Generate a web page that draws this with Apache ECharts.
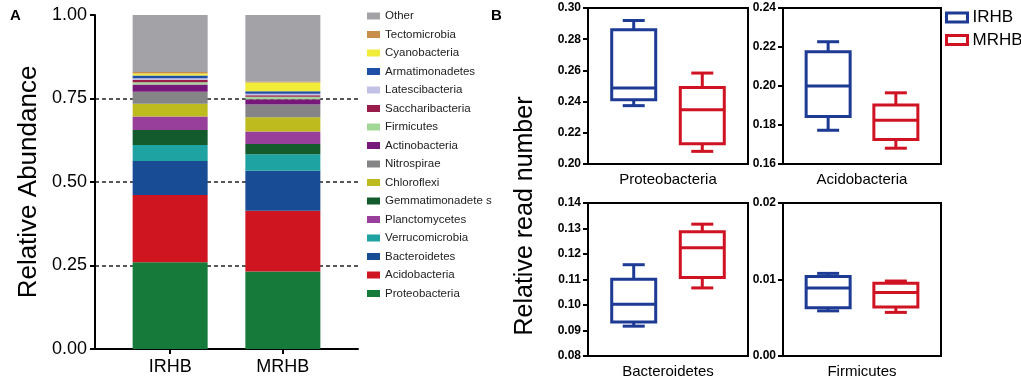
<!DOCTYPE html>
<html>
<head>
<meta charset="utf-8">
<script src="https://cdn.jsdelivr.net/npm/echarts@6/dist/echarts.min.js"></script>
<style>
  html, body { margin: 0; padding: 0; background: #fff; }
  #chart { width: 1021px; height: 380px; }
</style>
</head>
<body>
<div id="chart"></div>
<script>
// ---- panel A data (stacked from the bottom up) ----
const slots = ['', '', 'IRHB', '', '', 'MRHB', '', ''];
const groupSlot = [2, 5];
const phyla = ['Proteobacteria', 'Acidobacteria', 'Bacteroidetes', 'Verrucomicrobia',
  'Gemmatimonadete s', 'Planctomycetes', 'Chloroflexi', 'Nitrospirae', 'Actinobacteria',
  'Firmicutes', 'Saccharibacteria', 'Latescibacteria', 'Armatimonadetes', 'Cyanobacteria',
  'Tectomicrobia', 'Other'];
const irhbAbund = [0.260, 0.201, 0.102, 0.048, 0.045, 0.040, 0.038, 0.036, 0.022,
  0.007, 0.007, 0.005, 0.008, 0.006, 0.004, 0.171];
const mrhbAbund = [0.232, 0.182, 0.120, 0.049, 0.031, 0.037, 0.043, 0.038, 0.016,
  0.007, 0.005, 0.004, 0.008, 0.026, 0.003, 0.199];
const legendOrder = ['Other', 'Tectomicrobia', 'Cyanobacteria', 'Armatimonadetes',
  'Latescibacteria', 'Saccharibacteria', 'Firmicutes', 'Actinobacteria', 'Nitrospirae',
  'Chloroflexi', 'Gemmatimonadete s', 'Planctomycetes', 'Verrucomicrobia', 'Bacteroidetes',
  'Acidobacteria', 'Proteobacteria'];
const abundTicks = [0, 0.25, 0.5, 0.75, 1];

const phylumColors = ['#167a3a', '#cf1520', '#184d95', '#1fa3a2', '#135a2d', '#973f9b',
  '#bdbb1d', '#858587', '#77197a', '#a2d896', '#9a1c4b', '#c3c1e5', '#1f4ea6', '#f0ec38',
  '#c78f4b', '#a2a2a7'];

// ---- panel B data: [min, Q1, median, Q3, max] ----
const boxNames = ['Proteobacteria', 'Acidobacteria', 'Bacteroidetes', 'Firmicutes'];
const proteoIRHB = [0.2374, 0.2412, 0.2487, 0.2860, 0.2920];
const proteoMRHB = [0.2081, 0.2130, 0.2348, 0.2490, 0.2583];
const acidoIRHB = [0.1773, 0.1844, 0.2000, 0.2176, 0.2227];
const acidoMRHB = [0.1681, 0.1726, 0.1824, 0.1903, 0.1965];
const bacteroIRHB = [0.0917, 0.0933, 0.1003, 0.1101, 0.1158];
const bacteroMRHB = [0.1067, 0.1108, 0.1225, 0.1287, 0.1317];
const firmiIRHB = [0.0059, 0.0063, 0.0089, 0.0104, 0.0108];
const firmiMRHB = [0.0057, 0.0064, 0.0083, 0.0095, 0.0098];
const irhbBoxes = [proteoIRHB, acidoIRHB, bacteroIRHB, firmiIRHB];
const mrhbBoxes = [proteoMRHB, acidoMRHB, bacteroMRHB, firmiMRHB];
// y axis [min, max, interval] of each small plot
const boxRanges = [[0.20, 0.30, 0.02], [0.16, 0.24, 0.02], [0.08, 0.14, 0.01], [0.00, 0.02, 0.01]];

const blue = '#1d3a94';
const red = '#cf1322';
const font = 'Liberation Sans, Arial, sans-serif';

const boxGrids = [
  { left: 588, top: 8, width: 160, height: 156 },
  { left: 783, top: 8, width: 158, height: 156 },
  { left: 588, top: 203, width: 160, height: 157 },
  { left: 783, top: 203, width: 158, height: 157 }
];

function renderBox(params, api) {
  const x = api.value(0);
  const p = [1, 2, 3, 4, 5].map(i => api.coord([x, api.value(i)]));
  const cx = p[0][0];
  const half = 22;
  const cap = 11;
  const color = api.visual('color');
  const style = { stroke: color, lineWidth: 3, fill: null };
  const hline = (y, w) => ({ type: 'line', shape: { x1: cx - w, y1: y, x2: cx + w, y2: y }, style: style });
  return {
    type: 'group',
    children: [
      { type: 'line', shape: { x1: cx, y1: p[4][1], x2: cx, y2: p[0][1] }, style: style },
      hline(p[4][1], cap),
      hline(p[0][1], cap),
      {
        type: 'rect',
        shape: { x: cx - half, y: p[3][1], width: half * 2, height: p[1][1] - p[3][1] },
        style: { stroke: color, lineWidth: 3, fill: '#fff' }
      },
      hline(p[2][1], half)
    ]
  };
}

const chart = echarts.init(document.getElementById('chart'));

const grids = [{ left: 95, right: 663, top: 15, bottom: 31 }];
const xAxes = [{
  type: 'category',
  gridIndex: 0,
  data: slots,
  boundaryGap: false,
  axisLine: { lineStyle: { color: '#000', width: 2 } },
  axisTick: { interval: (i) => groupSlot.indexOf(i) >= 0, length: 5, lineStyle: { width: 2, color: '#000' } },
  axisLabel: { interval: 0, fontSize: 18, color: '#000', margin: 9 },
  splitLine: { show: false }
}];
const yAxes = [{
  type: 'value',
  gridIndex: 0,
  min: abundTicks[0],
  max: abundTicks[abundTicks.length - 1],
  interval: 0.25,
  name: 'Relative Abundance',
  nameLocation: 'middle',
  nameGap: 53,
  nameTextStyle: { fontSize: 26, color: '#000' },
  axisLine: { show: true, lineStyle: { color: '#000', width: 2 } },
  axisTick: { show: true, length: 5, lineStyle: { width: 2, color: '#000' } },
  axisLabel: { fontSize: 18, color: '#000', margin: 8, formatter: v => v.toFixed(2) },
  splitLine: {
    show: true,
    lineStyle: { type: [4, 3], width: 1.5, color: ['transparent', '#222', '#222', '#222', 'transparent'] }
  }
}];

const series = phyla.map((name, k) => ({
  name: name,
  type: 'bar',
  stack: 'total',
  xAxisIndex: 0,
  yAxisIndex: 0,
  barWidth: 75,
  itemStyle: { color: phylumColors[k] },
  data: [[groupSlot[0], irhbAbund[k]], [groupSlot[1], mrhbAbund[k]]]
}));

boxGrids.forEach((g, i) => {
  const gi = i + 1;
  grids.push(Object.assign({ show: true, borderColor: '#000', borderWidth: 2 }, g));
  xAxes.push({
    type: 'value',
    gridIndex: gi,
    min: 0,
    max: 7,
    name: boxNames[i],
    nameLocation: 'middle',
    nameGap: 8,
    nameTextStyle: { fontSize: 15, color: '#000', verticalAlign: 'top' },
    axisLine: { show: true, lineStyle: { color: '#000', width: 2 } },
    axisTick: { show: false },
    axisLabel: { show: false },
    splitLine: { show: false }
  });
  yAxes.push({
    type: 'value',
    gridIndex: gi,
    min: boxRanges[i][0],
    max: boxRanges[i][1],
    interval: boxRanges[i][2],
    axisLine: { show: true, lineStyle: { color: '#000', width: 2 } },
    axisTick: { show: true, length: 5, lineStyle: { width: 2, color: '#000' } },
    axisLabel: { fontSize: 12, fontWeight: 'bold', color: '#000', margin: 7, formatter: v => v.toFixed(2) },
    splitLine: { show: false }
  });
  [['IRHB', irhbBoxes[i], groupSlot[0], blue], ['MRHB', mrhbBoxes[i], groupSlot[1], red]].forEach(s => {
    series.push({
      name: s[0],
      type: 'custom',
      xAxisIndex: gi,
      yAxisIndex: gi,
      itemStyle: { color: s[3] },
      renderItem: renderBox,
      encode: { x: 0, y: [1, 2, 3, 4, 5] },
      data: [[s[2]].concat(s[1])]
    });
  });
});

const option = {
  animation: false,
  textStyle: { fontFamily: font },
  title: [
    { text: 'A', left: 10, top: 8, padding: 0, textStyle: { fontSize: 15, fontWeight: 'bold', color: '#000' } },
    { text: 'B', left: 491, top: 8, padding: 0, textStyle: { fontSize: 15, fontWeight: 'bold', color: '#000' } }
  ],
  legend: [
    {
      orient: 'vertical',
      left: 367,
      top: 10,
      padding: 0,
      itemWidth: 13,
      itemHeight: 7,
      itemGap: 6.5,
      icon: 'rect',
      selectedMode: false,
      textStyle: { fontSize: 11.5, color: '#222' },
      data: legendOrder
    },
    {
      orient: 'vertical',
      left: 945,
      top: 9,
      padding: 0,
      itemWidth: 21,
      itemHeight: 9,
      itemGap: 5.5,
      selectedMode: false,
      textStyle: { fontSize: 17, color: '#000' },
      data: [
        { name: 'IRHB', icon: 'rect', itemStyle: { color: '#fff', borderColor: blue, borderWidth: 3 } },
        { name: 'MRHB', icon: 'rect', itemStyle: { color: '#fff', borderColor: red, borderWidth: 3 } }
      ]
    }
  ],
  graphic: [{
    type: 'text',
    x: 525,
    y: 216,
    rotation: Math.PI / 2,
    style: {
      text: 'Relative read number',
      font: '25px ' + font,
      fill: '#000',
      align: 'center',
      verticalAlign: 'middle'
    }
  }],
  grid: grids,
  xAxis: xAxes,
  yAxis: yAxes,
  series: series
};

chart.setOption(option);
</script>
</body>
</html>
